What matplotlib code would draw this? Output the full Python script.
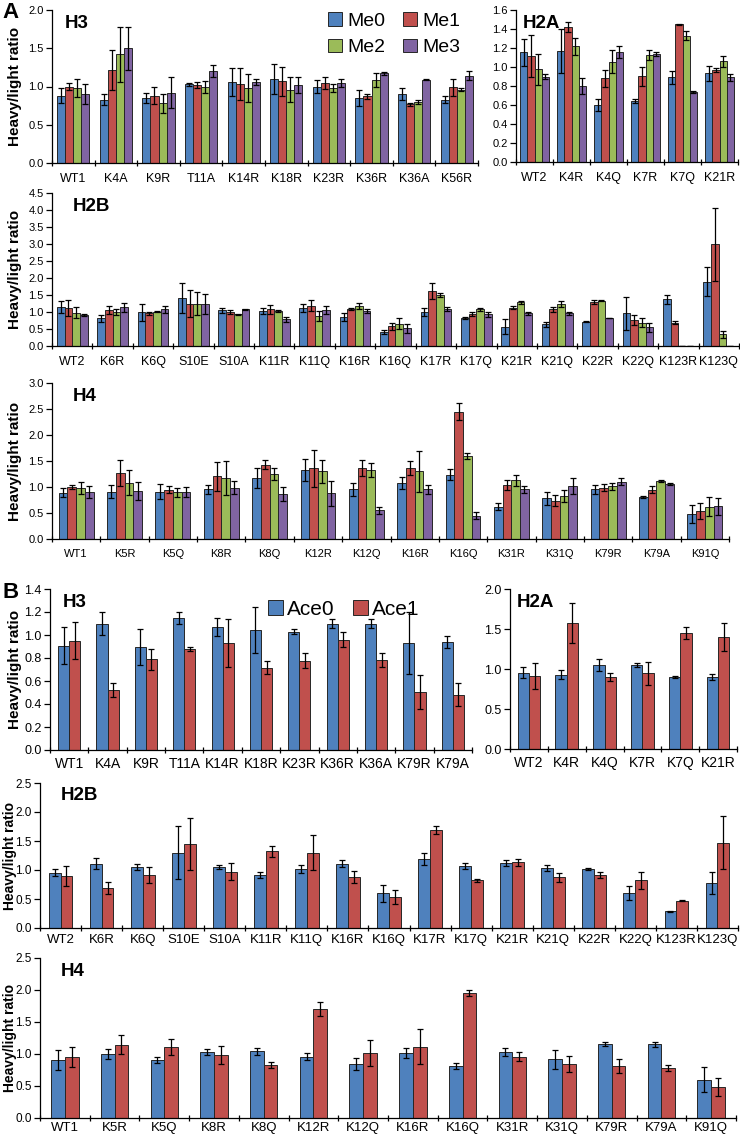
import matplotlib
matplotlib.use('Agg')
import matplotlib.pyplot as plt
from matplotlib import font_manager
from matplotlib.patches import Patch
import numpy as np

plt.rcParams['font.family'] = ['Liberation Sans', 'DejaVu Sans']
names = {f.name for f in font_manager.fontManager.ttflist}
narrow = 'Liberation Sans Narrow' if 'Liberation Sans Narrow' in names else 'Liberation Sans'

me_colors = ['#4F81BD', '#C0504D', '#9BBB59', '#8064A2']
me_names = ['Me0', 'Me1', 'Me2', 'Me3']
ace_names = ['Ace0', 'Ace1']

# ---- panel A: methylation ----
a_h3_cats = ['WT1', 'K4A', 'K9R', 'T11A', 'K14R', 'K18R', 'K23R', 'K36R', 'K36A', 'K56R']
a_h3_val = [[0.88, 1.00, 0.98, 0.90], [0.83, 1.22, 1.42, 1.50], [0.85, 0.88, 0.78, 0.92],
            [1.03, 1.02, 0.99, 1.20], [1.06, 1.03, 0.98, 1.06], [1.10, 1.07, 0.96, 1.02],
            [1.00, 1.05, 0.98, 1.05], [0.85, 0.87, 1.08, 1.17], [0.90, 0.77, 0.80, 1.09],
            [0.83, 0.99, 0.96, 1.14]]
a_h3_err = [[0.10, 0.05, 0.12, 0.13], [0.07, 0.26, 0.36, 0.28], [0.06, 0.11, 0.12, 0.20],
            [0.02, 0.04, 0.08, 0.08], [0.18, 0.21, 0.18, 0.04], [0.20, 0.19, 0.16, 0.10],
            [0.09, 0.08, 0.05, 0.05], [0.10, 0.03, 0.09, 0.02], [0.08, 0.02, 0.03, 0.01],
            [0.04, 0.11, 0.02, 0.06]]

a_h2a_cats = ['WT2', 'K4R', 'K4Q', 'K7R', 'K7Q', 'K21R']
a_h2a_val = [[1.155, 1.115, 0.975, 0.90], [1.17, 1.42, 1.22, 0.80], [0.60, 0.88, 1.055, 1.16],
             [0.64, 0.905, 1.125, 1.14], [0.89, 1.45, 1.33, 0.74], [0.935, 0.97, 1.06, 0.89]]
a_h2a_err = [[0.14, 0.22, 0.16, 0.03], [0.23, 0.05, 0.09, 0.08], [0.06, 0.09, 0.12, 0.06],
             [0.02, 0.10, 0.05, 0.02], [0.07, 0.005, 0.05, 0.01], [0.08, 0.02, 0.06, 0.04]]

a_h2b_cats = ['WT2', 'K6R', 'K6Q', 'S10E', 'S10A', 'K11R', 'K11Q', 'K16R', 'K16Q', 'K17R',
              'K17Q', 'K21R', 'K21Q', 'K22R', 'K22Q', 'K123R', 'K123Q']
a_h2b_val = [[1.14, 1.11, 0.98, 0.91], [0.82, 1.05, 1.01, 1.14], [0.99, 0.96, 1.01, 1.08],
             [1.41, 1.25, 1.25, 1.23], [1.05, 1.00, 0.93, 1.08], [1.03, 1.08, 1.03, 0.78],
             [1.13, 1.19, 0.89, 1.06], [0.86, 1.09, 1.18, 1.03], [0.41, 0.58, 0.66, 0.52],
             [1.01, 1.62, 1.50, 1.08], [0.81, 0.94, 1.08, 0.93], [0.57, 1.13, 1.28, 0.96],
             [0.64, 1.08, 1.24, 0.96], [0.72, 1.30, 1.33, 0.81], [0.96, 0.76, 0.69, 0.55],
             [1.38, 0.69, 0.01, 0.0], [1.89, 2.99, 0.34, 0.0]]
a_h2b_err = [[0.17, 0.24, 0.16, 0.03], [0.10, 0.12, 0.09, 0.13], [0.25, 0.05, 0.02, 0.10],
             [0.45, 0.40, 0.33, 0.30], [0.08, 0.05, 0.02, 0.02], [0.10, 0.13, 0.03, 0.06],
             [0.12, 0.16, 0.15, 0.13], [0.12, 0.02, 0.09, 0.07], [0.05, 0.10, 0.17, 0.13],
             [0.12, 0.23, 0.07, 0.06], [0.03, 0.05, 0.04, 0.08], [0.22, 0.04, 0.03, 0.05],
             [0.07, 0.07, 0.09, 0.04], [0.01, 0.05, 0.01, 0.0], [0.48, 0.15, 0.14, 0.13],
             [0.13, 0.05, 0.0, 0.0], [0.42, 1.08, 0.10, 0.0]]

a_h4_cats = ['WT1', 'K5R', 'K5Q', 'K8R', 'K8Q', 'K12R', 'K12Q', 'K16R', 'K16Q', 'K31R',
             'K31Q', 'K79R', 'K79A', 'K91Q']
a_h4_val = [[0.89, 1.00, 0.98, 0.90], [0.91, 1.27, 1.08, 0.92], [0.91, 0.95, 0.90, 0.90],
            [0.955, 1.21, 1.17, 0.99], [1.18, 1.43, 1.25, 0.87], [1.33, 1.36, 1.30, 0.88],
            [0.955, 1.36, 1.33, 0.55], [1.08, 1.37, 1.30, 0.955], [1.24, 2.45, 1.59, 0.45],
            [0.62, 1.04, 1.13, 0.955], [0.78, 0.74, 0.83, 1.02], [0.955, 0.99, 1.01, 1.10],
            [0.815, 0.95, 1.11, 1.05], [0.48, 0.54, 0.62, 0.63]]
a_h4_err = [[0.09, 0.04, 0.11, 0.12], [0.12, 0.25, 0.24, 0.17], [0.14, 0.07, 0.09, 0.10],
            [0.08, 0.28, 0.33, 0.13], [0.19, 0.08, 0.11, 0.13], [0.21, 0.36, 0.22, 0.24],
            [0.13, 0.15, 0.14, 0.07], [0.11, 0.13, 0.39, 0.09], [0.11, 0.16, 0.06, 0.06],
            [0.07, 0.10, 0.11, 0.07], [0.13, 0.11, 0.12, 0.15], [0.08, 0.06, 0.07, 0.07],
            [0.02, 0.06, 0.02, 0.02], [0.17, 0.16, 0.18, 0.16]]

# ---- panel B: acetylation ----
b_h3_cats = ['WT1', 'K4A', 'K9R', 'T11A', 'K14R', 'K18R', 'K23R', 'K36R', 'K36A', 'K79R', 'K79A']
b_h3_val = [[0.907, 0.95], [1.10, 0.525], [0.895, 0.79], [1.15, 0.88], [1.07, 0.93],
            [1.04, 0.715], [1.03, 0.775], [1.10, 0.96], [1.10, 0.785], [0.93, 0.505], [0.94, 0.48]]
b_h3_err = [[0.16, 0.16], [0.10, 0.06], [0.16, 0.09], [0.05, 0.015], [0.08, 0.21],
            [0.20, 0.055], [0.02, 0.065], [0.035, 0.065], [0.04, 0.06], [0.27, 0.15], [0.05, 0.10]]

b_h2a_cats = ['WT2', 'K4R', 'K4Q', 'K7R', 'K7Q', 'K21R']
b_h2a_val = [[0.954, 0.91], [0.93, 1.57], [1.05, 0.90], [1.045, 0.945], [0.90, 1.45], [0.90, 1.40]]
b_h2a_err = [[0.065, 0.16], [0.055, 0.25], [0.07, 0.055], [0.025, 0.14], [0.01, 0.07], [0.04, 0.18]]

b_h2b_cats = a_h2b_cats
b_h2b_val = [[0.955, 0.90], [1.11, 0.69], [1.05, 0.91], [1.30, 1.45], [1.05, 0.97], [0.915, 1.32],
             [1.02, 1.30], [1.11, 0.875], [0.60, 0.54], [1.19, 1.69], [1.07, 0.82], [1.12, 1.13],
             [1.04, 0.875], [1.02, 0.91], [0.605, 0.82], [0.29, 0.47], [0.78, 1.47]]
b_h2b_err = [[0.06, 0.17], [0.09, 0.10], [0.05, 0.14], [0.46, 0.45], [0.03, 0.15], [0.05, 0.10],
             [0.07, 0.30], [0.06, 0.10], [0.15, 0.12], [0.10, 0.07], [0.05, 0.02], [0.05, 0.06],
             [0.05, 0.08], [0.02, 0.05], [0.12, 0.14], [0.01, 0.01], [0.19, 0.46]]

b_h4_cats = a_h4_cats
b_h4_val = [[0.91, 0.95], [1.005, 1.145], [0.91, 1.11], [1.035, 0.985], [1.04, 0.83], [0.96, 1.70],
            [0.845, 1.015], [1.02, 1.115], [0.81, 1.95], [1.03, 0.96], [0.92, 0.845], [1.15, 0.81],
            [1.15, 0.785], [0.60, 0.485]]
b_h4_err = [[0.16, 0.16], [0.08, 0.15], [0.05, 0.12], [0.05, 0.14], [0.06, 0.05], [0.05, 0.11],
            [0.10, 0.20], [0.08, 0.27], [0.05, 0.05], [0.06, 0.07], [0.15, 0.13], [0.03, 0.11],
            [0.04, 0.05], [0.20, 0.14]]

W, H = 740, 1138
fig = plt.figure(figsize=(W / 100, H / 100), dpi=100)


def box(l, t, r, b):
    return [l / W, 1 - b / H, (r - l) / W, (b - t) / H]


def panel(rect, cats, vals, errs, ymax, ystep, title, group_w, ylabel=True,
          xfont='Liberation Sans', xsize=9, ysize=8, xpad=7, ylabel_x=22, ylabel_size=11):
    ax = fig.add_axes(box(*rect))
    vals = np.array(vals)
    errs = np.array(errs)
    n, k = vals.shape
    bw = group_w / k
    x = np.arange(n)
    for j in range(k):
        pos = x - group_w / 2 + bw * (j + 0.5)
        ax.bar(pos, vals[:, j], bw, color=me_colors[j], edgecolor='#262626', linewidth=0.7, zorder=2)
        ax.errorbar(pos, vals[:, j], yerr=errs[:, j], fmt='none', ecolor='black',
                    elinewidth=0.9, capsize=2, capthick=0.9, zorder=3)
    ax.set_xlim(-0.5, n - 0.5)
    ax.set_ylim(0, ymax)
    ax.set_yticks(np.arange(0, ymax + ystep / 2, ystep))
    ax.yaxis.set_major_formatter(matplotlib.ticker.FormatStrFormatter('%.1f'))
    ax.set_xticks(x)
    ax.set_xticklabels(cats, fontsize=xsize, family=xfont)
    ax.set_xticks(np.arange(-0.5, n), minor=True)
    ax.tick_params(axis='x', which='major', length=0, pad=xpad)
    ax.tick_params(axis='x', which='minor', length=4, width=0.9, direction='inout')
    ax.tick_params(axis='y', length=4, width=0.9, labelsize=ysize, pad=2)
    for t in ax.get_yticklabels():
        t.set_family(xfont)
    for s in ['top', 'right']:
        ax.spines[s].set_visible(False)
    for s in ['left', 'bottom']:
        ax.spines[s].set_linewidth(0.9)
    ax.text(0.03, 0.97, title, transform=ax.transAxes, fontsize=13.5, fontweight='bold',
            va='top', ha='left', family=xfont)
    if ylabel:
        ax.set_ylabel('Heavy/light ratio', fontsize=ylabel_size, fontweight='bold')
        ax.yaxis.set_label_coords((ylabel_x - rect[0]) / (rect[2] - rect[0]), 0.5)
    return ax


ax1 = panel((52, 10, 478, 163), a_h3_cats, a_h3_val, a_h3_err, 2.0, 0.5, 'H3', 0.76)
panel((516, 10, 738, 162), a_h2a_cats, a_h2a_val, a_h2a_err, 1.6, 0.2, 'H2A', 0.78, ylabel=False)
panel((52, 193, 739, 346), a_h2b_cats, a_h2b_val, a_h2b_err, 4.5, 0.5, 'H2B', 0.76)
panel((52, 383, 729, 539), a_h4_cats, a_h4_val, a_h4_err, 3.0, 0.5, 'H4', 0.72, xsize=8)

ax5 = panel((50, 589, 472, 750), b_h3_cats, b_h3_val, b_h3_err, 1.4, 0.2, 'H3', 0.58,
            xfont=narrow, xsize=10, ysize=9, xpad=5)
panel((510, 589, 737, 749), b_h2a_cats, b_h2a_val, b_h2a_err, 2.0, 0.5, 'H2A', 0.6,
      ylabel=False, xfont=narrow, xsize=10, ysize=9, xpad=5)
panel((40, 783, 738, 928), b_h2b_cats, b_h2b_val, b_h2b_err, 2.5, 0.5, 'H2B', 0.58,
      xfont=narrow, xsize=9.5, ysize=8.5, xpad=4, ylabel_x=17, ylabel_size=10)
panel((40, 958, 736, 1118), b_h4_cats, b_h4_val, b_h4_err, 2.5, 0.5, 'H4', 0.55,
      xfont=narrow, xsize=9.5, ysize=8.5, xpad=3, ylabel_x=17, ylabel_size=10)

h_me = [Patch(facecolor=c, edgecolor='#262626', linewidth=0.7) for c in me_colors]
order = [0, 2, 1, 3]
ax1.legend([h_me[i] for i in order], [me_names[i] for i in order], ncol=2, loc='upper right',
           bbox_to_anchor=(1.0, 1.1), frameon=False, fontsize=14, handlelength=0.7,
           handleheight=0.7, handletextpad=0.3, columnspacing=0.9, labelspacing=0.45)
h_ace = [Patch(facecolor=c, edgecolor='#262626', linewidth=0.7) for c in me_colors[:2]]
ax5.legend(h_ace, ace_names, ncol=2, loc='upper right', bbox_to_anchor=(0.92, 1.05), frameon=False,
           fontsize=15, handlelength=0.7, handleheight=0.7, handletextpad=0.2,
           columnspacing=0.9)

fig.text(2 / W, 1 - 2 / H, 'A', fontsize=16, fontweight='bold', va='top')
fig.text(2 / W, 1 - 582 / H, 'B', fontsize=16, fontweight='bold', va='top')

fig.savefig('out.png', dpi=100)
